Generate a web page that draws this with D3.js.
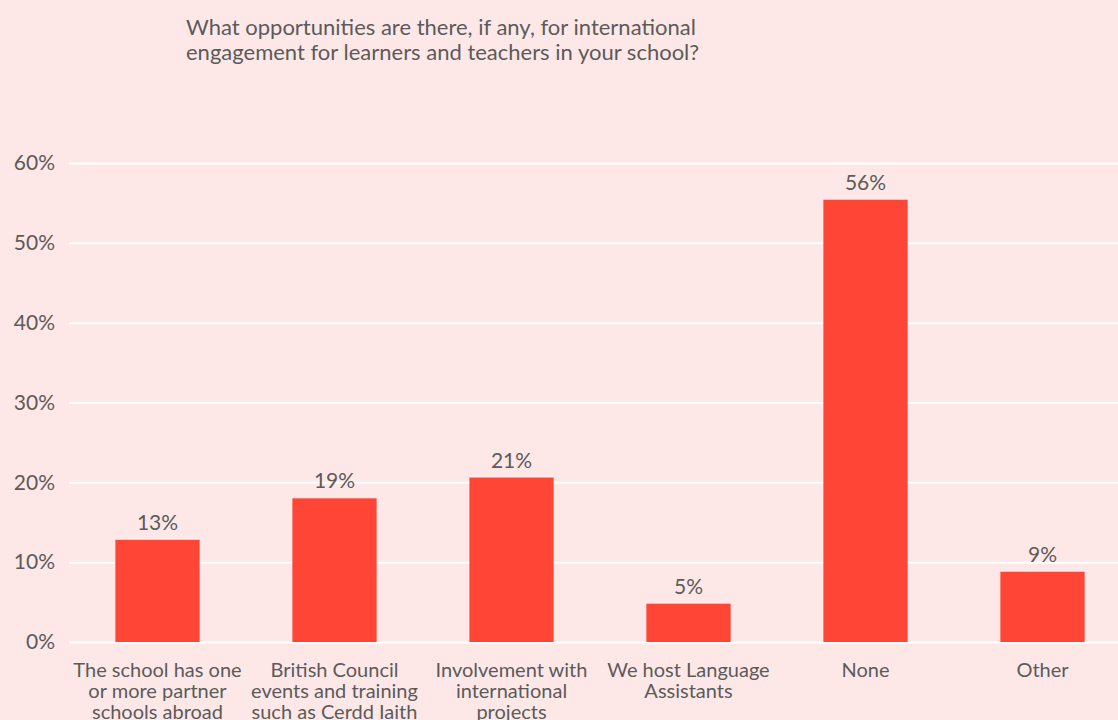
<!DOCTYPE html>
<html>
<head>
<meta charset="utf-8">
<script src="https://cdn.jsdelivr.net/npm/d3@7"></script>
<style>
  body { margin: 0; background: #fde8e7; }
  svg { display: block; font-family: Lato, "Open Sans", sans-serif; }
</style>
</head>
<body>
<div id="chart"></div>
<script>
const ancho = 1118
const alto = 720

// datos
const categorias = [
    ["The school has one", "or more partner", "schools abroad"],
    ["British Council", "events and training", "such as Cerdd Iaith"],
    ["Involvement with", "international", "projects"],
    ["We host Language", "Assistants"],
    ["None"],
    ["Other"]
]
const valores = [12.8, 18.0, 20.6, 4.8, 55.4, 8.8]
const etiquetas = ["13%", "19%", "21%", "5%", "56%", "9%"]
const ticksY = [0, 10, 20, 30, 40, 50, 60]
const titulo = [
    "What opportunities are there, if any, for international",
    "engagement for learners and teachers in your school?"
]

const gris = "#5b5b5b"

const svg = d3.select("#chart").append("svg")
    .attr("width", ancho)
    .attr("height", alto)

svg.append("rect").attr("width", ancho).attr("height", alto).attr("fill", "#fde8e7")

// escalas
const x = d3.scaleBand()
    .domain(d3.range(valores.length))
    .range([69, 1131])
    .paddingInner(0.524)
    .paddingOuter(0.262)
const y = d3.scaleLinear().domain([0, 60]).range([642, 163])

// titulo
svg.append("text")
    .attr("x", 186).attr("y", 35)
    .attr("fill", gris)
    .style("font-size", "22px")
    .selectAll("tspan").data(titulo).join("tspan")
        .attr("x", 186)
        .attr("dy", (d, i) => i ? 25 : 0)
        .text(d => d)

// eje y con lineas de fondo
const ejeY = d3.axisLeft(y)
    .tickValues(ticksY)
    .tickSize(-(ancho - 69))
    .tickPadding(14)
    .tickFormat(d => d + "%")
const grupoY = svg.append("g").attr("transform", "translate(69,0)").call(ejeY)
grupoY.select(".domain").remove()
grupoY.selectAll("line").attr("stroke", "#ffffff").attr("stroke-width", 2)
grupoY.selectAll("text")
    .attr("fill", gris)
    .style("font-size", "21px")
    .style("font-family", "Lato, 'Open Sans', sans-serif")

// barras
svg.append("g").selectAll("rect").data(valores).join("rect")
    .attr("x", (d, i) => x(i))
    .attr("y", d => y(d))
    .attr("width", x.bandwidth())
    .attr("height", d => y(0) - y(d))
    .attr("fill", "#ff4636")

// etiquetas de valor
svg.append("g").selectAll("text").data(valores).join("text")
    .attr("x", (d, i) => x(i) + x.bandwidth() / 2)
    .attr("y", d => y(d) - 10)
    .attr("text-anchor", "middle")
    .attr("fill", gris)
    .style("font-size", "21px")
    .text((d, i) => etiquetas[i])

// eje x (etiquetas de categoria)
const grupoX = svg.append("g")
grupoX.selectAll("text").data(categorias).join("text")
    .attr("text-anchor", "middle")
    .attr("fill", gris)
    .style("font-size", "20px")
    .attr("y", 677)
    .each(function(lineas, i) {
        d3.select(this).selectAll("tspan").data(lineas).join("tspan")
            .attr("x", x(i) + x.bandwidth() / 2)
            .attr("dy", (d, j) => j ? 21 : 0)
            .text(d => d)
    })
</script>
</body>
</html>
